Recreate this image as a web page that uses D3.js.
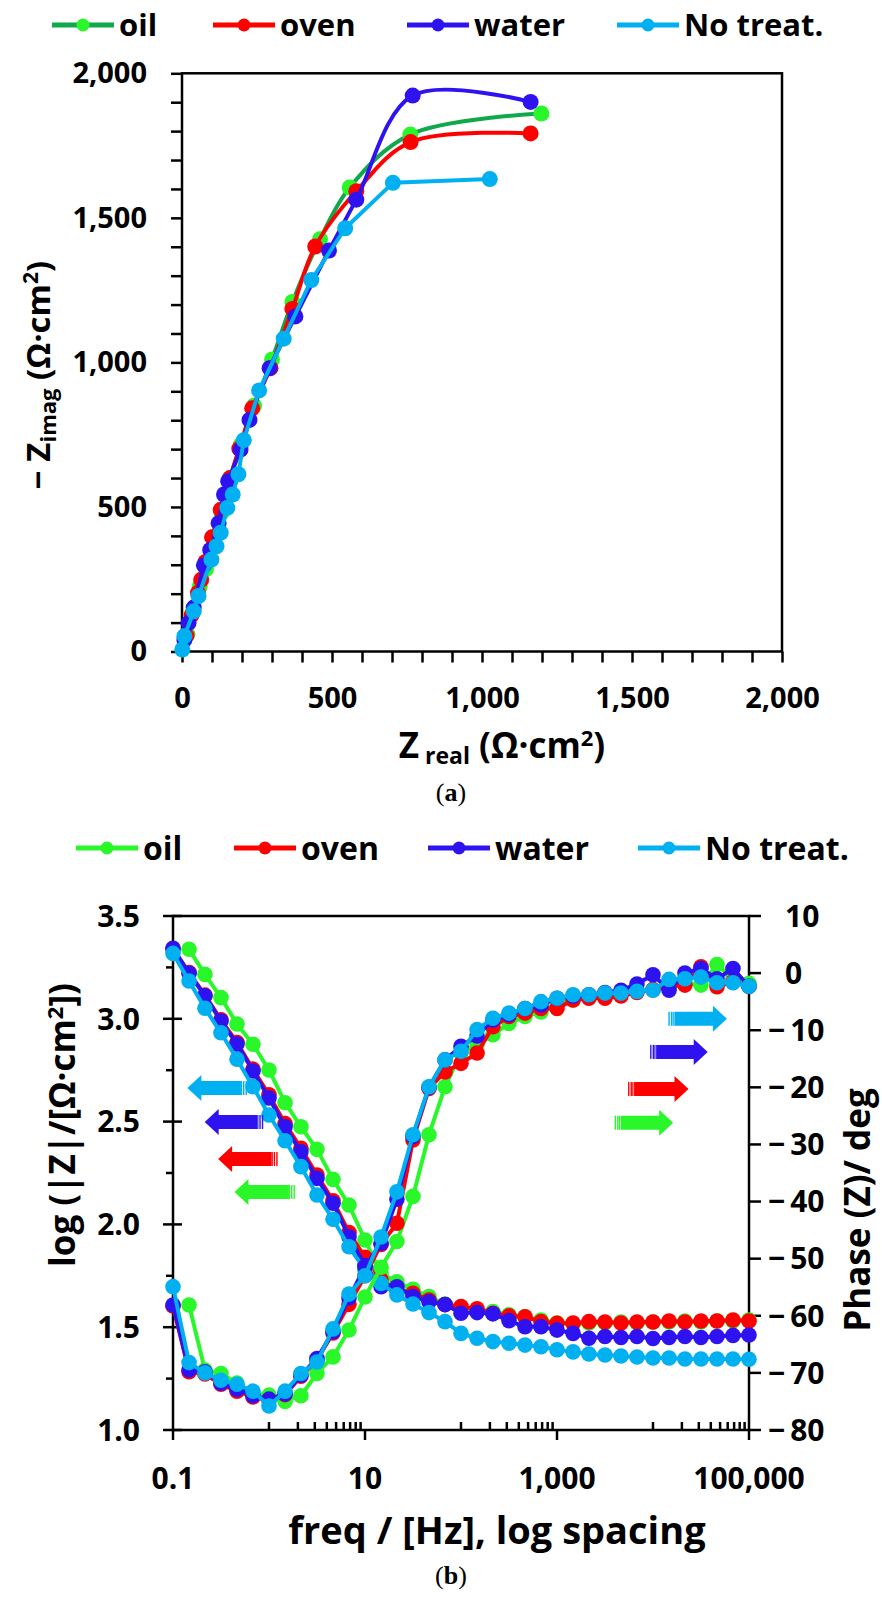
<!DOCTYPE html>
<html>
<head>
<meta charset="utf-8">
<script src="https://cdn.jsdelivr.net/npm/d3@7"></script>
<style>
  body { margin: 0; background: #fff; }
  svg text { font-family: "Open Sans", sans-serif; font-weight: bold; fill: #000; }
  .cap text { font-family: "Liberation Serif", "DejaVu Serif", serif; font-weight: normal; }
</style>
</head>
<body>
<svg id="fig" width="882" height="1601"></svg>
<script>
var series_names = ['oil', 'oven', 'water', 'No treat.'],
    marker_colors = ['#2AF72A', '#FF0000', '#2E13F0', '#00B0F0'],
    nyq_line_colors = ['#0FA84A', '#FF0000', '#2E13F0', '#00B0F0'];

// (a) Nyquist, [Z real, -Z imag] in ohm cm2, low freq first
var nyq_oil = [[1198,1861],[761,1788],[559,1605],[460,1426],[368,1209],[300,1010],[240,850],[196,715],
               [160,600],[132,480],[108,397],[80,285],[59,225],[38,140],[18,60]];
var nyq_oven = [[1162,1792],[762,1762],[581,1592],[444,1401],[368,1185],[295,980],[234,841],[191,702],
                [160,600],[129,490],[100,395],[78,310],[64,248],[53,203],[32,126],[15,55]];
var nyq_water = [[1162,1901],[769,1923],[581,1563],[490,1387],[378,1159],[292,980],[225,801],[195,698],
                 [154,589],[140,543],[122,444],[94,351],[73,298],[39,152],[22,99],[8,40]];
var nyq_none = [[1026,1634],[703,1621],[544,1464],[431,1285],[339,1082],[257,903],[206,731],[188,613],
                [169,543],[151,497],[129,411],[115,364],[98,318],[55,192],[39,139],[8,53],[1,7]];

// (b) Bode, frequencies in Hz
var freq = [0.1, 0.147, 0.215, 0.316, 0.464, 0.681, 1, 1.47, 2.15, 3.16, 4.64, 6.81,
            10, 14.7, 21.5, 31.6, 46.4, 68.1, 100, 147, 215, 316, 464, 681,
            1000, 1470, 2150, 3160, 4640, 6810, 10000, 14700, 21500, 31600, 46400, 68100, 100000];

var logz_oil = [null, 3.338, 3.216, 3.103, 2.975, 2.876, 2.751, 2.592, 2.475, 2.365, 2.219, 2.094,
                1.924, 1.76, 1.721, 1.684, 1.649, 1.613, 1.592, 1.58, 1.576, 1.56, 1.55, 1.535,
                1.52, 1.515, 1.52, 1.52, 1.525, 1.52, 1.525, 1.525, 1.53, 1.525, 1.53, 1.53, 1.535];
var logz_oven = [3.34, 3.225, 3.115, 2.995, 2.885, 2.755, 2.63, 2.49, 2.37, 2.24, 2.115, 1.96,
                 1.84, 1.73, 1.681, 1.665, 1.632, 1.61, 1.6, 1.59, 1.568, 1.555, 1.551, 1.527,
                 1.519, 1.52, 1.527, 1.525, 1.52, 1.525, 1.525, 1.53, 1.525, 1.53, 1.53, 1.535, 1.53];
var logz_water = [3.343, 3.221, 3.112, 2.989, 2.877, 2.746, 2.615, 2.475, 2.353, 2.224, 2.103, 1.94,
                  1.8, 1.697, 1.697, 1.649, 1.624, 1.61, 1.568, 1.571, 1.565, 1.532, 1.502, 1.502,
                  1.486, 1.47, 1.446, 1.455, 1.45, 1.455, 1.445, 1.45, 1.455, 1.45, 1.455, 1.46, 1.462];
var logz_none = [3.318, 3.184, 3.051, 2.932, 2.803, 2.67, 2.532, 2.407, 2.281, 2.143, 2.025, 1.891,
                 1.78, 1.713, 1.657, 1.613, 1.571, 1.527, 1.47, 1.446, 1.43, 1.422, 1.413, 1.405,
                 1.39, 1.38, 1.37, 1.365, 1.36, 1.355, 1.35, 1.35, 1.345, 1.345, 1.345, 1.345, 1.344];

var phase_oil = [null, -58.1, -69.5, -70.1, -71.8, -73.6, -73.9, -75.0, -74.0, -70.1, -67.2, -62.5,
                 -56.7, -51.5, -47.0, -39.1, -28.3, -19.9, -14.0, -12.5, -10.8, -8.8, -7.6, -6.8,
                 -5.6, -4.7, -4.2, -3.8, -3.4, -3.0, -2.9, -2.4, -1.8, -2.1, 1.5, -1.0, -1.8];
var phase_oven = [-58.3, -69.8, -70.2, -72.0, -73.2, -74.2, -74.8, -73.8, -70.6, -67.8, -63.0, -58.0,
                  -53.0, -47.5, -43.8, -29.2, -20.2, -17.3, -15.8, -14.0, -9.4, -7.6, -7.0, -6.2,
                  -6.2, -4.7, -4.4, -4.4, -4.0, -3.4, -2.9, -2.4, -2.1, 1.1, -2.4, -1.5, -2.3];
var phase_water = [-58.1, -69.5, -69.8, -71.8, -72.9, -74.0, -74.6, -73.7, -70.4, -67.5, -62.8, -56.9,
                   -51.4, -47.3, -39.6, -28.6, -20.0, -15.2, -12.8, -11.0, -8.2, -7.3, -6.2, -5.6,
                   -4.4, -4.0, -3.8, -3.4, -3.0, -1.9, -0.3, -3.0, 0.0, 0.8, -1.0, 0.8, -2.3];
var phase_none = [-54.9, -68.2, -70.0, -71.3, -72.0, -73.2, -75.8, -73.2, -70.1, -68.1, -62.3, -56.2,
                  -53.0, -46.2, -38.3, -28.3, -19.9, -15.2, -13.7, -9.9, -7.9, -7.0, -6.2, -5.0,
                  -4.4, -3.8, -3.8, -3.5, -3.5, -3.2, -3.0, -1.1, -1.0, -0.7, -1.7, -1.7, -2.3];

// axis ticks
var nyq_ticks = [0, 500, 1000, 1500, 2000],
    logz_ticks = [1.0, 1.5, 2.0, 2.5, 3.0, 3.5],
    phase_ticks = [10, 0, -10, -20, -30, -40, -50, -60, -70, -80],
    freq_ticks = [0.1, 10, 1000, 100000];

// arrow annotations: [log10 f tip, log10 f tail, axis value]
var arrows_left = [[-0.36, 0.27, 2.158], [-0.53, 0.09, 2.318], [-0.67, -0.06, 2.498], [-0.85, -0.23, 2.663]];
var arrows_right = [[4.21, 3.60, -26.2], [4.37, 3.74, -20.3], [4.57, 3.97, -13.8], [4.77, 4.16, -8.0]];

var svg = d3.select('#fig'),
    fmt = d3.format(',');

function drawLegend(y, lineColors, size) {
  var starts = [52, 213, 407, 617],
      g = svg.append('g');
  if (y > 500) starts = [76, 234, 428, 638];
  series_names.forEach(function(name, i) {
    g.append('line').attr('x1', starts[i]).attr('x2', starts[i] + 62)
      .attr('y1', y).attr('y2', y)
      .attr('stroke', lineColors[i]).attr('stroke-width', 5);
    g.append('circle').attr('cx', starts[i] + 31).attr('cy', y).attr('r', 6.5)
      .attr('fill', marker_colors[i]);
    g.append('text').attr('x', starts[i] + 67).attr('y', y).attr('dy', '0.36em')
      .style('font-size', size + 'px').text(name);
  });
}

function drawSeries(g, pts, lineColor, fillColor, r, curve) {
  var line = d3.line()
    .defined(function(d) { return d[1] !== null; })
    .x(function(d) { return d[0]; })
    .y(function(d) { return d[1]; })
    .curve(curve);
  g.append('path').attr('d', line(pts))
    .attr('fill', 'none').attr('stroke', lineColor).attr('stroke-width', 4)
    .attr('stroke-linejoin', 'round');
  g.selectAll(null).data(pts.filter(function(d) { return d[1] !== null; }))
    .enter().append('circle')
    .attr('cx', function(d) { return d[0]; })
    .attr('cy', function(d) { return d[1]; })
    .attr('r', r)
    .attr('fill', fillColor);
}

// ---------- panel (a) ----------
var ax = d3.scaleLinear().domain([0, 2000]).range([182, 782]),
    ay = d3.scaleLinear().domain([0, 2000]).range([651.5, 73.3]);

drawLegend(25, nyq_line_colors, 31);

svg.append('rect').attr('x', ax(0)).attr('y', ay(2000))
  .attr('width', ax(2000) - ax(0)).attr('height', ay(0) - ay(2000))
  .attr('fill', 'none').attr('stroke', '#000').attr('stroke-width', 2.5);

var gax = svg.append('g').attr('transform', 'translate(0,' + ay(0) + ')')
  .call(d3.axisBottom(ax).tickValues(d3.range(0, 2001, 100)).tickSize(11).tickSizeOuter(0)
    .tickPadding(25).tickFormat(function(d) { return nyq_ticks.indexOf(d) >= 0 ? fmt(d) : ''; }));
var gay = svg.append('g').attr('transform', 'translate(' + ax(0) + ',0)')
  .call(d3.axisLeft(ay).tickValues(d3.range(0, 2001, 100)).tickSize(11).tickSizeOuter(0)
    .tickPadding(24).tickFormat(function(d) { return nyq_ticks.indexOf(d) >= 0 ? fmt(d) : ''; }));
[gax, gay].forEach(function(g) {
  g.select('.domain').remove();
  g.selectAll('line').attr('stroke', '#000').attr('stroke-width', 2.5);
  g.selectAll('text').attr('font-family', null).attr('font-size', null).style('font-size', '29px');
});

// No treat. is drawn with straight segments, the others smoothed
var nyq_all = [nyq_oil, nyq_oven, nyq_water, nyq_none];
nyq_all.forEach(function(s, i) {
  var pts = s.map(function(d) { return [ax(d[0]), ay(d[1])]; }),
      curve = i === 3 ? d3.curveLinear : d3.curveCatmullRom.alpha(0.5);
  drawSeries(svg.append('g'), pts, nyq_line_colors[i], marker_colors[i], 8, curve);
});

var xt = svg.append('text').attr('x', 502).attr('y', 745).attr('dy', '0.36em')
  .attr('text-anchor', 'middle').style('font-size', '35px');
xt.append('tspan').text('Z');
xt.append('tspan').attr('dy', 6).style('font-size', '23px').text(' real');
xt.append('tspan').attr('dy', -6).text(' (Ω·cm');
xt.append('tspan').attr('dy', -12).style('font-size', '22px').text('2');
xt.append('tspan').attr('dy', 12).text(')');

var yt = svg.append('text').attr('transform', 'translate(38,375) rotate(-90)')
  .attr('dy', '0.36em').attr('text-anchor', 'middle').style('font-size', '33px');
yt.append('tspan').text('− Z');
yt.append('tspan').attr('dy', 6).style('font-size', '22px').text('imag');
yt.append('tspan').attr('dy', -6).text(' (Ω·cm');
yt.append('tspan').attr('dy', -12).style('font-size', '21px').text('2');
yt.append('tspan').attr('dy', 12).text(')');

var capA = svg.append('g').attr('class', 'cap').append('text').attr('x', 451).attr('y', 792)
  .attr('dy', '0.36em').attr('text-anchor', 'middle').style('font-size', '26px');
capA.append('tspan').text('(');
capA.append('tspan').style('font-weight', 'bold').text('a');
capA.append('tspan').text(')');

// ---------- panel (b) ----------
var bx = d3.scaleLog().domain([0.1, 100000]).range([173, 749]),
    byl = d3.scaleLinear().domain([1, 3.5]).range([1430, 916]),
    byr = d3.scaleLinear().domain([-80, 10]).range([1430, 916]);

drawLegend(848, marker_colors, 32);

var frame = svg.append('g').attr('stroke', '#000').attr('stroke-width', 2.5);
frame.append('rect').attr('x', bx(0.1)).attr('y', byl(3.5))
  .attr('width', bx(100000) - bx(0.1)).attr('height', byl(1) - byl(3.5))
  .attr('fill', 'none');

// left axis: crossing major ticks, outward minor ticks
frame.selectAll(null).data(logz_ticks).enter().append('line')
  .attr('x1', bx(0.1) - 10).attr('x2', bx(0.1) + 9)
  .attr('y1', function(d) { return byl(d); }).attr('y2', function(d) { return byl(d); });
frame.selectAll(null).data(logz_ticks.slice(1)).enter().append('line')
  .attr('x1', bx(0.1) - 7).attr('x2', bx(0.1))
  .attr('y1', function(d) { return byl(d - 0.25); }).attr('y2', function(d) { return byl(d - 0.25); });
svg.selectAll(null).data(logz_ticks).enter().append('text')
  .attr('x', 140).attr('y', function(d) { return byl(d); }).attr('dy', '0.36em')
  .attr('text-anchor', 'end').style('font-size', '30px')
  .text(function(d) { return d.toFixed(1); });

// right axis
frame.selectAll(null).data(phase_ticks).enter().append('line')
  .attr('x1', bx(100000)).attr('x2', bx(100000) + 12)
  .attr('y1', function(d) { return byr(d); }).attr('y2', function(d) { return byr(d); });
svg.selectAll(null).data(phase_ticks).enter().append('text')
  .attr('x', function(d) { return d < 0 ? 768 : 785; })
  .attr('y', function(d) { return byr(d); }).attr('dy', '0.36em')
  .style('font-size', '30px')
  .text(function(d) { return d < 0 ? '\u2212\u2009' + Math.abs(d) : d; });

// bottom axis: outward major ticks, inward minor ticks at 1-9 x 10^(2k)
var minor = [];
[1, 100, 10000].forEach(function(b) {
  d3.range(1, 10).forEach(function(m) { minor.push(b * m); });
});
frame.selectAll(null).data(freq_ticks).enter().append('line')
  .attr('x1', function(d) { return bx(d); }).attr('x2', function(d) { return bx(d); })
  .attr('y1', byl(1)).attr('y2', byl(1) + 10);
frame.selectAll(null).data(minor).enter().append('line')
  .attr('x1', function(d) { return bx(d); }).attr('x2', function(d) { return bx(d); })
  .attr('y1', byl(1) - 8).attr('y2', byl(1));
svg.selectAll(null).data(freq_ticks).enter().append('text')
  .attr('x', function(d) { return bx(d); }).attr('y', 1478).attr('dy', '0.36em')
  .attr('text-anchor', 'middle').style('font-size', '30px')
  .text(function(d) { return d < 1 ? '0.1' : fmt(d); });

var logz_all = [logz_oil, logz_oven, logz_water, logz_none],
    phase_all = [phase_oil, phase_oven, phase_water, phase_none];
logz_all.forEach(function(s, i) {
  var pts = s.map(function(v, j) { return [bx(freq[j]), v === null ? null : byl(v)]; });
  drawSeries(svg.append('g'), pts, marker_colors[i], marker_colors[i], 7.8, d3.curveLinear);
});
phase_all.forEach(function(s, i) {
  var pts = s.map(function(v, j) { return [bx(freq[j]), v === null ? null : byr(v)]; });
  drawSeries(svg.append('g'), pts, marker_colors[i], marker_colors[i], 7.8, d3.curveLinear);
});

// block arrows pointing to the axis each curve belongs to
function drawArrow(tipX, tailX, y, color) {
  var dir = tipX < tailX ? -1 : 1,
      head = 14, half = 13, shaft = 7,
      neck = tipX - dir * head,
      body = tailX + dir * 6,
      g = svg.append('g').attr('fill', color);
  g.append('path').attr('d', 'M' + tipX + ',' + y +
    'L' + neck + ',' + (y - half) + 'L' + neck + ',' + (y - shaft) +
    'L' + body + ',' + (y - shaft) + 'L' + body + ',' + (y + shaft) +
    'L' + neck + ',' + (y + shaft) + 'L' + neck + ',' + (y + half) + 'Z');
  [0, 2.5].forEach(function(o) {
    g.append('rect').attr('x', Math.min(tailX + dir * o, tailX + dir * o + dir * 1.4))
      .attr('y', y - shaft).attr('width', 1.4).attr('height', 2 * shaft);
  });
  g.append('rect').attr('x', Math.min(tailX + dir * 4.2, body)).attr('y', y - shaft)
    .attr('width', 1.2).attr('height', 2 * shaft);
}
arrows_left.forEach(function(a, i) {
  drawArrow(bx(Math.pow(10, a[0])), bx(Math.pow(10, a[1])), byl(a[2]), marker_colors[i]);
});
arrows_right.forEach(function(a, i) {
  drawArrow(bx(Math.pow(10, a[0])), bx(Math.pow(10, a[1])), byr(a[2]), marker_colors[i]);
});

svg.append('text').attr('x', 497).attr('y', 1530).attr('dy', '0.36em')
  .attr('text-anchor', 'middle').style('font-size', '38px')
  .text('freq / [Hz], log spacing');

var lt = svg.append('text').attr('transform', 'translate(62,1125) rotate(-90)')
  .attr('dy', '0.36em').attr('text-anchor', 'middle').style('font-size', '35px');
lt.append('tspan').text('log (|Z|/[Ω·cm');
lt.append('tspan').attr('dy', -12).style('font-size', '22px').text('2');
lt.append('tspan').attr('dy', 12).text('])');

svg.append('text').attr('transform', 'translate(857,1210) rotate(-90)')
  .attr('dy', '0.36em').attr('text-anchor', 'middle').style('font-size', '35px')
  .text('Phase (Z)/ deg');

var capB = svg.append('g').attr('class', 'cap').append('text').attr('x', 451).attr('y', 1575)
  .attr('dy', '0.36em').attr('text-anchor', 'middle').style('font-size', '26px');
capB.append('tspan').text('(');
capB.append('tspan').style('font-weight', 'bold').text('b');
capB.append('tspan').text(')');
</script>
</body>
</html>
